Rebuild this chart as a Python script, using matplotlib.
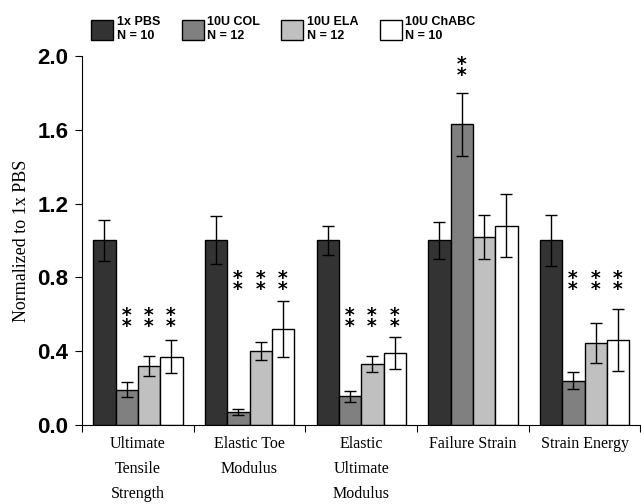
import numpy as np
import matplotlib.pyplot as plt

# data
categories = ['Ultimate\nTensile\nStrength', 'Elastic Toe\nModulus',
              'Elastic\nUltimate\nModulus', 'Failure Strain', 'Strain Energy']
groups = ['1x PBS\nN = 10', '10U COL\nN = 12', '10U ELA\nN = 12', '10U ChABC\nN = 10']

pbs = [1.00, 1.00, 1.00, 1.00, 1.00]
col = [0.19, 0.07, 0.155, 1.63, 0.24]
ela = [0.32, 0.40, 0.33, 1.02, 0.445]
chabc = [0.37, 0.52, 0.39, 1.08, 0.46]

pbs_err = [0.11, 0.13, 0.08, 0.10, 0.14]
col_err = [0.04, 0.015, 0.03, 0.17, 0.045]
ela_err = [0.055, 0.05, 0.045, 0.12, 0.107]
chabc_err = [0.09, 0.15, 0.085, 0.17, 0.17]

# significance marks: (category index, group index, height)
stars = [(0, 1, 0.57), (0, 2, 0.57), (0, 3, 0.57),
         (1, 1, 0.77), (1, 2, 0.77), (1, 3, 0.77),
         (2, 1, 0.57), (2, 2, 0.57), (2, 3, 0.57),
         (3, 1, 1.93),
         (4, 1, 0.77), (4, 2, 0.77), (4, 3, 0.77)]

colors = ['#333333', '#808080', '#c0c0c0', '#ffffff']

#################################################################

fig = plt.figure(figsize=(6.41, 5.04), dpi=100)
ax = fig.add_axes([0.128, 0.157, 0.871, 0.732])

x = np.arange(len(categories)) + 0.5
w = 0.2
series = [pbs, col, ela, chabc]
errs = [pbs_err, col_err, ela_err, chabc_err]

handles = []
for i, (vals, e) in enumerate(zip(series, errs)):
    pos = x + (i - 1.5) * w
    b = ax.bar(pos, vals, w, color=colors[i], edgecolor='black', linewidth=1,
               label=groups[i], zorder=2)
    ax.errorbar(pos, vals, yerr=e, fmt='none', ecolor='black', elinewidth=1,
                capsize=4, capthick=1, zorder=3)
    handles.append(b)

for ci, gi, h in stars:
    ax.text(x[ci] + (gi - 1.5) * w, h, '\u2051', ha='center', va='center',
            fontsize=17, fontweight='bold', color='black')

ax.set_xlim(0, len(categories))
ax.set_ylim(0, 2.0)
ax.set_yticks([0, 0.4, 0.8, 1.2, 1.6, 2.0])
ax.set_yticklabels(['0.0', '0.4', '0.8', '1.2', '1.6', '2.0'],
                   fontfamily='Liberation Sans', fontweight='bold', fontsize=16)
ax.set_xticks(np.arange(len(categories) + 1))
ax.set_xticklabels([])
ax.set_xticks(x, minor=True)
ax.set_xticklabels(categories, minor=True, fontfamily='Liberation Serif',
                   fontsize=11.5, linespacing=1.75, va='top')
ax.tick_params(axis='x', which='minor', length=0, pad=8)
ax.tick_params(axis='x', which='major', length=5, direction='out')
ax.tick_params(axis='y', length=5, direction='out', pad=5)
ax.spines['top'].set_visible(False)
ax.spines['right'].set_visible(False)
ax.set_ylabel('Normalized to 1x PBS', fontfamily='Liberation Serif', fontsize=13,
              labelpad=5)

fig.legend(handles=handles, labels=groups, loc='upper left',
           bbox_to_anchor=(0.125, 0.99), ncol=4, frameon=False,
           prop={'family': 'Liberation Sans', 'weight': 'bold', 'size': 9},
           handlelength=1.75, handleheight=2.1, handletextpad=0.3,
           columnspacing=1.7)

plt.savefig('out.png', dpi=100)
